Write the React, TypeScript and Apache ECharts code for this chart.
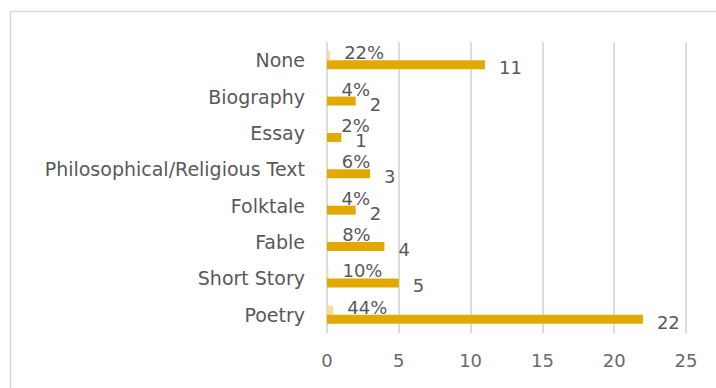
import React, { useEffect, useRef } from "react";
import * as echarts from "echarts";

const categories = ["Poetry", "Short Story", "Fable", "Folktale", "Philosophical/Religious Text", "Essay", "Biography", "None"];
const counts = [22, 5, 4, 2, 3, 1, 2, 11];
const shares = [0.44, 0.1, 0.08, 0.04, 0.06, 0.02, 0.04, 0.22];
const xTicks = [0, 5, 10, 15, 20, 25];

export default function App() {
  const ref = useRef<HTMLDivElement>(null);
  useEffect(() => {
    if (!ref.current) return;
    const chart = echarts.init(ref.current, undefined, { renderer: "svg" });
    const font = "'DejaVu Sans', sans-serif";
    const fs = 19;
    chart.setOption({
      animation: false,
      backgroundColor: "#ffffff",
      graphic: [
        {
          type: "rect",
          shape: { x: 10.5, y: 11.5, width: 800, height: 500 },
          style: { fill: "none", stroke: "#d9d9d9", lineWidth: 1.5 },
          silent: true,
        },
      ],
      grid: { left: 327, right: 30, top: 42, bottom: 55 },
      xAxis: {
        type: "value",
        min: xTicks[0],
        max: xTicks[xTicks.length - 1],
        interval: 5,
        axisLine: { show: false },
        axisTick: { show: false },
        splitLine: { show: true, lineStyle: { color: "#dcdcdc", width: 2 } },
        axisLabel: { color: "#6a6a6a", fontSize: fs - 1, fontFamily: font, margin: 18 },
      },
      yAxis: {
        type: "category",
        data: categories,
        axisLine: { show: false },
        axisTick: { show: false },
        axisLabel: { color: "#595959", fontSize: fs, fontFamily: font, margin: 22 },
      },
      series: [
        {
          type: "bar",
          name: "share",
          data: shares,
          barWidth: 9,
          barGap: "0%",
          itemStyle: { color: "#f7dc94" },
          label: {
            show: true,
            position: "right",
            distance: 14,
            offset: [0, -3],
            color: "#595959",
            fontSize: fs - 1,
            fontFamily: font,
            formatter: (p: any) => Math.round(p.value * 100) + "%",
          },
        },
        {
          type: "bar",
          name: "count",
          data: counts,
          barWidth: 9,
          itemStyle: { color: "#e2aa00" },
          label: {
            show: true,
            position: "right",
            distance: 14,
            offset: [0, 3],
            color: "#595959",
            fontSize: fs - 1,
            fontFamily: font,
          },
        },
      ],
    });
    return () => chart.dispose();
  }, []);
  return <div ref={ref} style={{ position: "absolute", left: 0, top: 0, width: 716, height: 388 }} />;
}
